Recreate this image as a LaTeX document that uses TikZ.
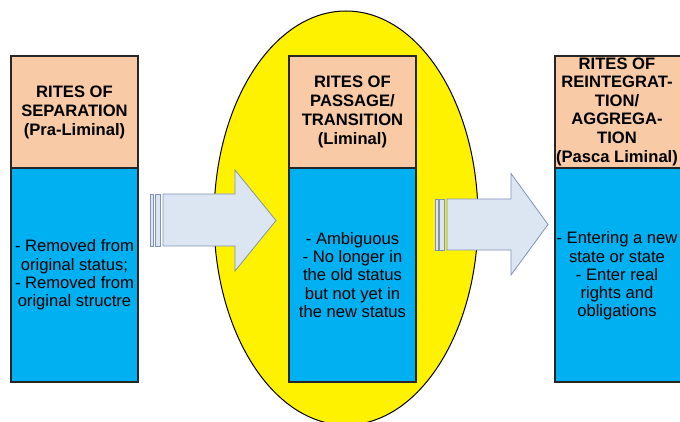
\documentclass[tikz,border=0pt]{standalone}
\usepackage{fontspec}
\setmainfont{Liberation Sans}
\definecolor{peach}{HTML}{F8CBA6}
\definecolor{skyblue}{HTML}{00B0F0}
\definecolor{arrowfill}{HTML}{DCE6F2}
\definecolor{arrowline}{HTML}{7F93B8}
\begin{document}
\begin{tikzpicture}[x=1pt,y=-1pt,
  hdr/.style={draw=black!85,line width=1.2pt,fill=peach,minimum height=112pt,inner sep=0pt,align=center,font=\bfseries\fontsize{16.6}{19}\selectfont},
  bdy/.style={draw=black!85,line width=1.2pt,fill=skyblue,minimum height=214pt,inner sep=0pt,align=center,font=\fontsize{16.6}{18.2}\selectfont},
  blockarrow/.style={draw=arrowline,line width=0.8pt,fill=arrowfill,line join=miter}]
\useasboundingbox (0,0) rectangle (680,422);
% ellipse
\fill[yellow] (346,218) ellipse [x radius=132, y radius=207];
\draw[black,line width=1pt] (346,218) ellipse [x radius=132, y radius=207];
% left
\node[hdr,minimum width=127pt] (h1) at (74.5,112) {RITES OF\\SEPARATION\\(Pra-Liminal)};
\node[bdy,minimum width=127pt] (b1) at (74.5,275) {- Removed from\\original status;\\- Removed from\\original structre};
% middle
\node[hdr,minimum width=127pt] (h2) at (352.5,112) {RITES OF\\PASSAGE/\\TRANSITION\\(Liminal)};
\node[bdy,minimum width=127pt] (b2) at (352.5,275) {- Ambiguous\\- No longer in\\the old status\\but not yet in\\the new status};
% right
\node[hdr,minimum width=127pt] (h3) at (618.5,112) {};
\node[font=\bfseries\fontsize{16.6}{18.6}\selectfont,align=center,inner sep=0pt] (t3) at (617,111.5) {RITES OF\\REINTEGRAT-\\TION/\\AGGREGA-\\TION\\(Pasca Liminal)};
\node[bdy,minimum width=127pt] (b3) at (618.5,275) {};
\node[font=\fontsize{16.6}{18.2}\selectfont,align=center,inner sep=0pt] (u3) at (617,276) {- Entering a new\\state or state\\- Enter real\\rights and\\obligations};
% arrow 1
\coordinate (a1) at (163,194);
\draw[blockarrow] (150,194) rectangle (153,246);
\draw[blockarrow] (155.5,194) rectangle (160.5,246);
\draw[blockarrow] (a1) -- (235,194) -- (235,170) -- (276,220.5) -- (235,271) -- (235,246) -- (163,246) -- cycle;
% arrow 2
\coordinate (a2) at (447,199);
\draw[blockarrow] (435.5,199) rectangle (438,250);
\draw[blockarrow] (439.5,199) rectangle (444.5,250);
\draw[blockarrow] (a2) -- (511,199) -- (511,173.5) -- (548,224.5) -- (511,275) -- (511,250) -- (447,250) -- cycle;
\end{tikzpicture}
\end{document}
